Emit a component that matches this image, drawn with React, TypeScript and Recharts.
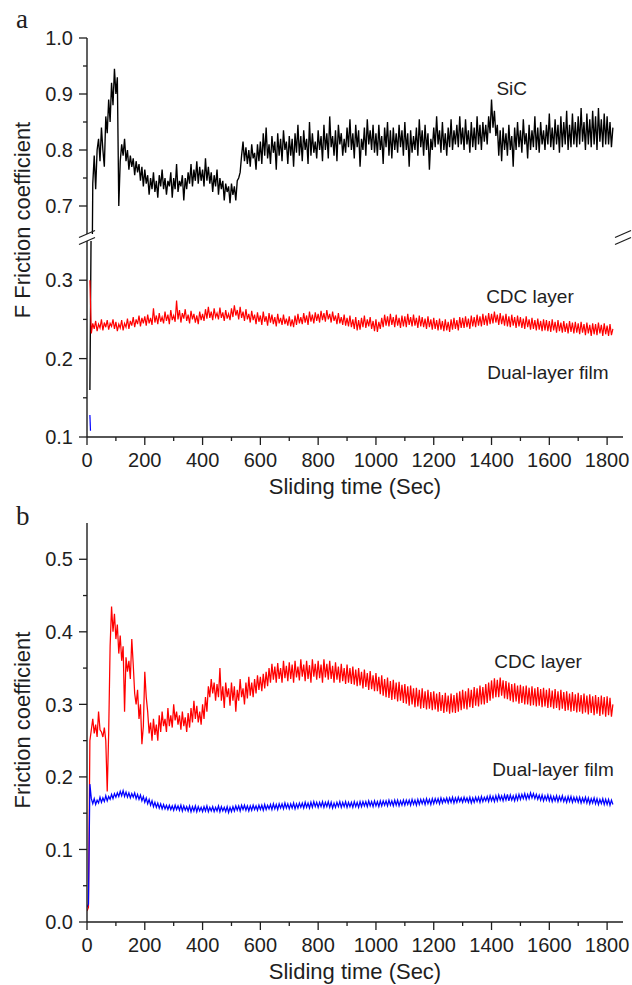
import React from 'react';
import { LineChart, Line, XAxis, YAxis, ReferenceDot } from 'recharts';

// ---------- data ----------
const TIME_START = 0;
const TIME_STEP = 5; // seconds between samples

// Panel a – SiC (black)
const SIC_A: (number | null)[] = [
  null, null, 0.16, 0.4, 0.74, 0.79, 0.73, 0.8, 0.82, 0.78, 0.84, 0.8, 0.77, 0.86, 0.83, 0.89, 0.85, 0.92, 0.88, 0.945,
  0.9, 0.93, 0.7, 0.78, 0.81, 0.79, 0.82, 0.78, 0.8, 0.765, 0.79, 0.77, 0.785, 0.755, 0.78, 0.76, 0.775, 0.745, 0.77, 0.735,
  0.765, 0.74, 0.755, 0.72, 0.75, 0.73, 0.76, 0.725, 0.745, 0.715, 0.755, 0.735, 0.765, 0.73, 0.75, 0.72, 0.745, 0.735, 0.76, 0.715,
  0.75, 0.73, 0.775, 0.725, 0.745, 0.735, 0.755, 0.71, 0.75, 0.73, 0.76, 0.74, 0.775, 0.735, 0.765, 0.745, 0.78, 0.74, 0.77, 0.745,
  0.765, 0.735, 0.785, 0.745, 0.77, 0.74, 0.76, 0.725, 0.755, 0.735, 0.765, 0.72, 0.75, 0.73, 0.745, 0.71, 0.74, 0.725, 0.735, 0.705,
  0.74, 0.72, 0.735, 0.71, 0.745, 0.75, 0.76, 0.79, 0.815, 0.78, 0.805, 0.775, 0.8, 0.77, 0.81, 0.785, 0.795, 0.765, 0.81, 0.78,
  0.815, 0.775, 0.83, 0.79, 0.84, 0.785, 0.81, 0.775, 0.825, 0.795, 0.815, 0.765, 0.83, 0.79, 0.82, 0.78, 0.835, 0.8, 0.815, 0.775,
  0.825, 0.79, 0.82, 0.77, 0.83, 0.795, 0.845, 0.79, 0.825, 0.78, 0.835, 0.8, 0.82, 0.775, 0.85, 0.79, 0.83, 0.795, 0.815, 0.785,
  0.835, 0.8, 0.825, 0.78, 0.845, 0.8, 0.83, 0.785, 0.86, 0.805, 0.825, 0.79, 0.835, 0.78, 0.845, 0.81, 0.83, 0.79, 0.82, 0.795,
  0.84, 0.805, 0.855, 0.8, 0.83, 0.785, 0.845, 0.805, 0.835, 0.77, 0.82, 0.8, 0.84, 0.79, 0.855, 0.81, 0.835, 0.8, 0.845, 0.795,
  0.83, 0.79, 0.845, 0.8, 0.825, 0.775, 0.84, 0.805, 0.85, 0.79, 0.835, 0.785, 0.84, 0.8, 0.83, 0.795, 0.845, 0.805, 0.835, 0.79,
  0.85, 0.8, 0.83, 0.77, 0.835, 0.795, 0.825, 0.8, 0.84, 0.79, 0.855, 0.805, 0.835, 0.79, 0.845, 0.8, 0.83, 0.765, 0.82, 0.8,
  0.84, 0.805, 0.86, 0.81, 0.835, 0.795, 0.85, 0.8, 0.83, 0.79, 0.84, 0.805, 0.855, 0.8, 0.835, 0.81, 0.845, 0.805, 0.86, 0.81,
  0.84, 0.8, 0.855, 0.81, 0.835, 0.795, 0.85, 0.805, 0.84, 0.8, 0.86, 0.81, 0.845, 0.8, 0.85, 0.815, 0.845, 0.81, 0.86, 0.83,
  0.89, 0.84, 0.87, 0.825, 0.845, 0.79, 0.835, 0.78, 0.84, 0.8, 0.83, 0.79, 0.845, 0.8, 0.825, 0.77, 0.84, 0.8, 0.85, 0.805,
  0.835, 0.795, 0.855, 0.81, 0.83, 0.785, 0.845, 0.8, 0.835, 0.805, 0.86, 0.8, 0.84, 0.795, 0.85, 0.81, 0.835, 0.8, 0.845, 0.81,
  0.865, 0.805, 0.84, 0.8, 0.855, 0.81, 0.845, 0.795, 0.86, 0.805, 0.85, 0.81, 0.87, 0.8, 0.845, 0.805, 0.865, 0.81, 0.85, 0.805,
  0.86, 0.81, 0.875, 0.815, 0.85, 0.8, 0.865, 0.81, 0.855, 0.805, 0.87, 0.81, 0.86, 0.8, 0.875, 0.815, 0.855, 0.805, 0.865, 0.81,
  0.86, 0.81, 0.85, 0.805, 0.84,
];

// Panel a – CDC layer (red)
const CDC_A: (number | null)[] = [
  null, null, 0.3, 0.232, 0.245, 0.238, 0.248, 0.235, 0.244, 0.239, 0.25, 0.236, 0.246, 0.24, 0.249, 0.237, 0.245, 0.241, 0.25, 0.238,
  0.247, 0.235, 0.244, 0.239, 0.249, 0.236, 0.245, 0.24, 0.251, 0.238, 0.248, 0.242, 0.253, 0.24, 0.25, 0.244, 0.255, 0.241, 0.252, 0.245,
  0.254, 0.242, 0.256, 0.245, 0.252, 0.243, 0.264, 0.246, 0.255, 0.244, 0.258, 0.247, 0.253, 0.245, 0.26, 0.248, 0.256, 0.244, 0.262, 0.249,
  0.255, 0.247, 0.274, 0.25, 0.262, 0.246, 0.258, 0.251, 0.263, 0.248, 0.256, 0.245, 0.261, 0.25, 0.257, 0.246, 0.255, 0.244, 0.26, 0.249,
  0.257, 0.248, 0.263, 0.251, 0.266, 0.252, 0.26, 0.249, 0.264, 0.253, 0.258, 0.25, 0.265, 0.252, 0.259, 0.248, 0.262, 0.251, 0.257, 0.249,
  0.264, 0.253, 0.268, 0.255, 0.262, 0.25, 0.266, 0.252, 0.26, 0.248, 0.263, 0.25, 0.257, 0.246, 0.261, 0.249, 0.256, 0.244, 0.259, 0.247,
  0.255, 0.243, 0.26, 0.247, 0.254, 0.242, 0.258, 0.246, 0.256, 0.244, 0.253, 0.241, 0.257, 0.245, 0.252, 0.243, 0.256, 0.244, 0.251, 0.242,
  0.254, 0.241, 0.25, 0.24, 0.255, 0.243, 0.257, 0.245, 0.253, 0.244, 0.258, 0.246, 0.255, 0.243, 0.26, 0.247, 0.256, 0.245, 0.259, 0.248,
  0.257, 0.246, 0.261, 0.249, 0.258, 0.247, 0.262, 0.25, 0.257, 0.246, 0.26, 0.248, 0.255, 0.244, 0.258, 0.245, 0.253, 0.243, 0.256, 0.242,
  0.252, 0.241, 0.255, 0.24, 0.25, 0.238, 0.253, 0.236, 0.249, 0.237, 0.252, 0.24, 0.255, 0.239, 0.25, 0.241, 0.253, 0.238, 0.248, 0.235,
  0.25, 0.234, 0.247, 0.238, 0.252, 0.24, 0.256, 0.242, 0.254, 0.241, 0.257, 0.243, 0.253, 0.24, 0.256, 0.242, 0.252, 0.239, 0.255, 0.241,
  0.254, 0.24, 0.257, 0.243, 0.253, 0.241, 0.256, 0.242, 0.252, 0.239, 0.255, 0.241, 0.253, 0.24, 0.251, 0.238, 0.254, 0.24, 0.25, 0.237,
  0.252, 0.238, 0.249, 0.236, 0.251, 0.237, 0.248, 0.235, 0.25, 0.236, 0.247, 0.234, 0.25, 0.237, 0.252, 0.238, 0.249, 0.236, 0.253, 0.239,
  0.252, 0.239, 0.254, 0.24, 0.251, 0.238, 0.255, 0.241, 0.253, 0.24, 0.256, 0.242, 0.254, 0.241, 0.257, 0.243, 0.255, 0.242, 0.258, 0.244,
  0.257, 0.245, 0.26, 0.246, 0.256, 0.243, 0.258, 0.244, 0.255, 0.242, 0.257, 0.241, 0.254, 0.24, 0.256, 0.242, 0.253, 0.239, 0.255, 0.241,
  0.253, 0.239, 0.251, 0.238, 0.254, 0.24, 0.25, 0.237, 0.252, 0.238, 0.249, 0.236, 0.251, 0.237, 0.248, 0.235, 0.25, 0.236, 0.249, 0.235,
  0.248, 0.234, 0.25, 0.236, 0.247, 0.233, 0.249, 0.235, 0.246, 0.233, 0.248, 0.234, 0.245, 0.232, 0.248, 0.234, 0.246, 0.232, 0.247, 0.233,
  0.245, 0.231, 0.247, 0.233, 0.244, 0.23, 0.246, 0.232, 0.243, 0.229, 0.245, 0.231, 0.244, 0.23, 0.246, 0.232, 0.243, 0.229, 0.245, 0.231,
  0.242, 0.229, 0.244, 0.23, 0.238,
];

// Panel a – Dual-layer film (blue): only a short blip is visible above 0.1
const DUAL_A_TIME = [10, 12];
const DUAL_A = [0.128, 0.108];

// Panel b – CDC layer (red)
const CDC_B: number[] = [
  0.015, 0.02, 0.25, 0.265, 0.28, 0.26, 0.272, 0.255, 0.29, 0.265, 0.262, 0.255, 0.268, 0.25, 0.18, 0.26, 0.38, 0.435, 0.4, 0.425,
  0.39, 0.41, 0.37, 0.395, 0.36, 0.38, 0.29, 0.365, 0.345, 0.36, 0.335, 0.39, 0.355, 0.315, 0.3, 0.32, 0.28, 0.3, 0.245, 0.27,
  0.345, 0.31, 0.29, 0.26, 0.275, 0.25, 0.28, 0.258, 0.272, 0.25, 0.285, 0.262, 0.29, 0.27, 0.28, 0.262, 0.295, 0.27, 0.285, 0.268,
  0.3, 0.278, 0.29, 0.272, 0.285, 0.265, 0.29, 0.27, 0.282, 0.262, 0.288, 0.268, 0.295, 0.275, 0.305, 0.28, 0.298, 0.275, 0.29, 0.272,
  0.3, 0.28, 0.31, 0.29, 0.325, 0.31, 0.335, 0.315, 0.33, 0.305, 0.328, 0.31, 0.35, 0.305, 0.325, 0.295, 0.33, 0.31, 0.322, 0.298,
  0.33, 0.305, 0.325, 0.29, 0.32, 0.305, 0.335, 0.31, 0.322, 0.3, 0.33, 0.308, 0.338, 0.312, 0.33, 0.31, 0.335, 0.315, 0.34, 0.32,
  0.338, 0.318, 0.342, 0.322, 0.345, 0.325, 0.35, 0.33, 0.356, 0.334, 0.352, 0.33, 0.357, 0.335, 0.35, 0.33, 0.36, 0.336, 0.353, 0.332,
  0.358, 0.335, 0.355, 0.33, 0.36, 0.337, 0.352, 0.333, 0.362, 0.338, 0.355, 0.332, 0.36, 0.335, 0.354, 0.33, 0.362, 0.338, 0.356, 0.334,
  0.36, 0.336, 0.355, 0.33, 0.362, 0.337, 0.356, 0.334, 0.36, 0.335, 0.353, 0.33, 0.358, 0.334, 0.352, 0.33, 0.356, 0.332, 0.35, 0.328,
  0.355, 0.33, 0.35, 0.328, 0.352, 0.327, 0.348, 0.325, 0.35, 0.326, 0.345, 0.322, 0.348, 0.324, 0.343, 0.32, 0.346, 0.321, 0.34, 0.318,
  0.343, 0.318, 0.338, 0.314, 0.34, 0.312, 0.335, 0.31, 0.337, 0.309, 0.332, 0.306, 0.334, 0.307, 0.33, 0.304, 0.331, 0.305, 0.327, 0.302,
  0.328, 0.301, 0.325, 0.298, 0.326, 0.3, 0.322, 0.296, 0.323, 0.297, 0.32, 0.294, 0.322, 0.295, 0.318, 0.293, 0.32, 0.294, 0.317, 0.292,
  0.318, 0.293, 0.315, 0.29, 0.317, 0.291, 0.313, 0.288, 0.316, 0.29, 0.312, 0.287, 0.315, 0.289, 0.313, 0.288, 0.316, 0.29, 0.318, 0.292,
  0.32, 0.294, 0.318, 0.293, 0.322, 0.296, 0.32, 0.295, 0.324, 0.298, 0.322, 0.297, 0.326, 0.3, 0.324, 0.3, 0.328, 0.302, 0.33, 0.305,
  0.333, 0.308, 0.336, 0.31, 0.334, 0.31, 0.337, 0.312, 0.333, 0.308, 0.332, 0.307, 0.33, 0.305, 0.328, 0.303, 0.329, 0.304, 0.326, 0.301,
  0.327, 0.302, 0.325, 0.3, 0.326, 0.3, 0.323, 0.298, 0.325, 0.299, 0.322, 0.297, 0.324, 0.298, 0.321, 0.296, 0.323, 0.297, 0.32, 0.295,
  0.322, 0.296, 0.319, 0.294, 0.321, 0.295, 0.318, 0.292, 0.32, 0.294, 0.317, 0.291, 0.318, 0.292, 0.315, 0.29, 0.317, 0.291, 0.314, 0.289,
  0.316, 0.29, 0.313, 0.287, 0.315, 0.289, 0.312, 0.286, 0.314, 0.288, 0.311, 0.285, 0.313, 0.287, 0.31, 0.284, 0.312, 0.286, 0.31, 0.283,
  0.311, 0.285, 0.309, 0.283, 0.3,
];

// Panel b – Dual-layer film (blue)
const DUAL_B: number[] = [
  0.02, 0.025, 0.19, 0.17, 0.163, 0.17, 0.162, 0.168, 0.164, 0.172, 0.165, 0.171, 0.166, 0.174, 0.167, 0.173, 0.169, 0.176, 0.17, 0.177,
  0.172, 0.178, 0.173, 0.18, 0.174, 0.181, 0.173, 0.179, 0.172, 0.178, 0.171, 0.177, 0.172, 0.178, 0.17, 0.176, 0.169, 0.175, 0.167, 0.173,
  0.165, 0.171, 0.163, 0.169, 0.161, 0.167, 0.159, 0.165, 0.158, 0.164, 0.157, 0.163, 0.156, 0.162, 0.156, 0.161, 0.155, 0.161, 0.155, 0.16,
  0.154, 0.161, 0.155, 0.16, 0.154, 0.161, 0.153, 0.16, 0.154, 0.159, 0.153, 0.16, 0.152, 0.159, 0.153, 0.16, 0.152, 0.159, 0.153, 0.158,
  0.152, 0.159, 0.153, 0.16, 0.152, 0.158, 0.153, 0.159, 0.152, 0.158, 0.153, 0.16, 0.152, 0.159, 0.153, 0.158, 0.152, 0.159, 0.151, 0.158,
  0.152, 0.159, 0.153, 0.16, 0.154, 0.16, 0.153, 0.161, 0.155, 0.161, 0.154, 0.16, 0.153, 0.16, 0.154, 0.161, 0.155, 0.16, 0.154, 0.161,
  0.155, 0.161, 0.154, 0.162, 0.155, 0.161, 0.156, 0.162, 0.155, 0.163, 0.156, 0.162, 0.155, 0.163, 0.157, 0.163, 0.156, 0.164, 0.157, 0.163,
  0.156, 0.163, 0.157, 0.164, 0.156, 0.163, 0.157, 0.164, 0.158, 0.164, 0.157, 0.165, 0.158, 0.164, 0.157, 0.165, 0.158, 0.166, 0.159, 0.165,
  0.158, 0.165, 0.159, 0.166, 0.158, 0.165, 0.159, 0.166, 0.158, 0.165, 0.157, 0.164, 0.158, 0.165, 0.159, 0.166, 0.158, 0.165, 0.159, 0.166,
  0.158, 0.165, 0.159, 0.165, 0.158, 0.166, 0.159, 0.165, 0.158, 0.166, 0.159, 0.166, 0.16, 0.166, 0.159, 0.167, 0.16, 0.166, 0.159, 0.167,
  0.16, 0.166, 0.159, 0.167, 0.16, 0.167, 0.161, 0.167, 0.16, 0.168, 0.161, 0.167, 0.16, 0.168, 0.161, 0.168, 0.16, 0.167, 0.161, 0.168,
  0.161, 0.168, 0.162, 0.168, 0.161, 0.169, 0.162, 0.168, 0.161, 0.169, 0.162, 0.169, 0.163, 0.169, 0.162, 0.17, 0.163, 0.169, 0.162, 0.17,
  0.163, 0.17, 0.164, 0.17, 0.163, 0.171, 0.164, 0.17, 0.165, 0.171, 0.164, 0.171, 0.165, 0.172, 0.164, 0.171, 0.165, 0.172, 0.166, 0.171,
  0.165, 0.172, 0.166, 0.171, 0.165, 0.172, 0.164, 0.171, 0.165, 0.172, 0.166, 0.172, 0.165, 0.173, 0.166, 0.172, 0.167, 0.173, 0.166, 0.174,
  0.167, 0.173, 0.166, 0.174, 0.167, 0.175, 0.168, 0.174, 0.167, 0.175, 0.168, 0.176, 0.167, 0.175, 0.168, 0.174, 0.167, 0.175, 0.168, 0.176,
  0.169, 0.176, 0.17, 0.177, 0.169, 0.176, 0.17, 0.178, 0.171, 0.177, 0.17, 0.176, 0.169, 0.175, 0.168, 0.175, 0.167, 0.174, 0.168, 0.175,
  0.167, 0.174, 0.166, 0.173, 0.167, 0.174, 0.166, 0.173, 0.167, 0.174, 0.166, 0.172, 0.165, 0.173, 0.166, 0.173, 0.165, 0.172, 0.166, 0.172,
  0.165, 0.172, 0.164, 0.171, 0.165, 0.172, 0.164, 0.171, 0.163, 0.17, 0.164, 0.171, 0.163, 0.17, 0.162, 0.169, 0.163, 0.17, 0.162, 0.169,
  0.162, 0.169, 0.161, 0.168, 0.162,
];

// Axes
const X_MAX = 1855;
const X_TICKS = [0, 100, 200, 300, 400, 500, 600, 700, 800, 900, 1000, 1100, 1200, 1300, 1400, 1500, 1600, 1700, 1800];
const Y_DOMAIN_A_TOP: [number, number] = [0.65, 1.0];
const Y_TICKS_A_TOP = [0.7, 0.75, 0.8, 0.85, 0.9, 0.95, 1.0];
const Y_DOMAIN_A_BOTTOM: [number, number] = [0.1, 0.35];
const Y_TICKS_A_BOTTOM = [0.1, 0.15, 0.2, 0.25, 0.3];
const Y_DOMAIN_B: [number, number] = [0, 0.55];
const Y_TICKS_B = [0, 0.05, 0.1, 0.15, 0.2, 0.25, 0.3, 0.35, 0.4, 0.45, 0.5];

// ---------- helpers ----------
const toSeries = (vals: (number | null)[]) =>
  vals.map((v, i) => ({ t: TIME_START + i * TIME_STEP, v }));
const pairSeries = (ts: number[], vals: number[]) => ts.map((t, i) => ({ t, v: vals[i] }));

const sicA = toSeries(SIC_A);
const cdcA = toSeries(CDC_A);
const dualA = pairSeries(DUAL_A_TIME, DUAL_A);
const cdcB = toSeries(CDC_B);
const dualB = toSeries(DUAL_B);

const SANS = '"Liberation Sans", Arial, Helvetica, sans-serif';
const INK = '#1e1e1e';
const AXIS = { stroke: INK, strokeWidth: 1.4 };
const TICK_FONT = 20;
const TITLE_FONT = 22;
const NOTE_FONT = 19;

const isMajorY = (v: number) => Math.abs(v * 10 - Math.round(v * 10)) < 1e-6;

const YTick = (props: any) => {
  const { x, y, payload } = props;
  const v = payload.value as number;
  const major = isMajorY(v);
  return (
    <g>
      <line x1={x - (major ? 8 : 4)} x2={x} y1={y} y2={y} stroke={INK} strokeWidth={1.3} />
      {major && (
        <text x={x - 14} y={y} dy="0.36em" textAnchor="end" fontSize={TICK_FONT} fontFamily={SANS} fill={INK}>
          {v.toFixed(1)}
        </text>
      )}
    </g>
  );
};

const XTick = (props: any) => {
  const { x, y, payload } = props;
  const v = payload.value as number;
  const major = v % 200 === 0;
  return (
    <g>
      <line x1={x} x2={x} y1={y} y2={y + (major ? 8 : 4)} stroke={INK} strokeWidth={1.3} />
      {major && (
        <text x={x} y={y + 30} textAnchor="middle" fontSize={TICK_FONT} fontFamily={SANS} fill={INK}>
          {v}
        </text>
      )}
    </g>
  );
};

const xTitle = (props: any) => {
  const vb = props.viewBox || {};
  const cx = (vb.x ?? 87) + (vb.width ?? 536) / 2;
  const y = (vb.y ?? 0) + 57;
  return (
    <text x={cx} y={y} textAnchor="middle" fontSize={TITLE_FONT} fontFamily={SANS} fill={INK}>
      Sliding time (Sec)
    </text>
  );
};

const yTitle = (text: string, cx: number, cy: number) => () => (
  <text
    x={cx}
    y={cy}
    transform={`rotate(-90 ${cx} ${cy})`}
    textAnchor="middle"
    dy="0.36em"
    fontSize={TITLE_FONT}
    fontFamily={SANS}
    fill={INK}
  >
    {text}
  </text>
);

const note = (value: string) => ({
  value,
  position: 'center' as const,
  fontSize: NOTE_FONT,
  fontFamily: SANS,
  fill: INK,
});

const W = 632;

export default function App() {
  return (
    <div style={{ position: 'absolute', left: 0, top: 0, width: W, height: 985, background: '#fff', fontFamily: SANS }}>
      {/* Panel a – upper segment */}
      <div style={{ position: 'absolute', left: 0, top: 0 }}>
        <LineChart width={W} height={234} margin={{ top: 38, right: 9, bottom: 0, left: 0 }}>
          <XAxis dataKey="t" type="number" domain={[0, X_MAX]} hide allowDataOverflow />
          <XAxis xAxisId="top" orientation="top" type="number" domain={[0, X_MAX]} height={0} tick={false} tickLine={false} axisLine={AXIS} />
          <YAxis
            type="number"
            domain={Y_DOMAIN_A_TOP}
            ticks={Y_TICKS_A_TOP}
            interval={0}
            width={87}
            tickSize={0}
            tickMargin={0}
            tickLine={false}
            tick={YTick}
            axisLine={AXIS}
            allowDataOverflow
          />
          <YAxis yAxisId="right" orientation="right" type="number" domain={Y_DOMAIN_A_TOP} width={0} tick={false} tickLine={false} axisLine={AXIS} />
          <Line data={sicA} dataKey="v" type="linear" stroke="#000" strokeWidth={1.35} dot={false} isAnimationActive={false} />
          <ReferenceDot x={1470} y={0.91} r={0} fill="none" stroke="none" label={note('SiC')} />
        </LineChart>
      </div>

      {/* Panel a – lower segment */}
      <div style={{ position: 'absolute', left: 0, top: 100 }}>
        <LineChart width={W} height={400} margin={{ top: 141, right: 9, bottom: 3, left: 0 }}>
          <XAxis
            dataKey="t"
            type="number"
            domain={[0, X_MAX]}
            ticks={X_TICKS}
            interval={0}
            height={60}
            tickSize={0}
            tickMargin={0}
            tickLine={false}
            tick={XTick}
            axisLine={AXIS}
            allowDataOverflow
            label={xTitle}
          />
          <YAxis
            type="number"
            domain={Y_DOMAIN_A_BOTTOM}
            ticks={Y_TICKS_A_BOTTOM}
            interval={0}
            width={87}
            tickSize={0}
            tickMargin={0}
            tickLine={false}
            tick={YTick}
            axisLine={AXIS}
            allowDataOverflow
            label={yTitle('F Friction coefficient', 22, 120)}
          />
          <YAxis yAxisId="right" orientation="right" type="number" domain={Y_DOMAIN_A_BOTTOM} width={0} tick={false} tickLine={false} axisLine={AXIS} />
          <Line data={sicA} dataKey="v" type="linear" stroke="#000" strokeWidth={1.35} dot={false} isAnimationActive={false} />
          <Line data={cdcA} dataKey="v" type="linear" stroke="#ff0000" strokeWidth={1.2} dot={false} isAnimationActive={false} />
          <Line data={dualA} dataKey="v" type="linear" stroke="#0000ff" strokeWidth={1.2} dot={false} isAnimationActive={false} />
          <ReferenceDot x={1533} y={0.28} r={0} fill="none" stroke="none" label={note('CDC layer')} />
          <ReferenceDot x={1595} y={0.183} r={0} fill="none" stroke="none" label={note('Dual-layer film')} />
        </LineChart>
      </div>

      {/* Panel b */}
      <div style={{ position: 'absolute', left: 0, top: 500 }}>
        <LineChart width={W} height={485} margin={{ top: 23, right: 9, bottom: 3, left: 0 }}>
          <XAxis
            dataKey="t"
            type="number"
            domain={[0, X_MAX]}
            ticks={X_TICKS}
            interval={0}
            height={60}
            tickSize={0}
            tickMargin={0}
            tickLine={false}
            tick={XTick}
            axisLine={AXIS}
            allowDataOverflow
            label={xTitle}
          />
          <XAxis xAxisId="top" orientation="top" type="number" domain={[0, X_MAX]} height={0} tick={false} tickLine={false} axisLine={AXIS} />
          <YAxis
            type="number"
            domain={Y_DOMAIN_B}
            ticks={Y_TICKS_B}
            interval={0}
            width={87}
            tickSize={0}
            tickMargin={0}
            tickLine={false}
            tick={YTick}
            axisLine={AXIS}
            allowDataOverflow
            label={yTitle('Friction coefficient', 22, 220)}
          />
          <YAxis yAxisId="right" orientation="right" type="number" domain={Y_DOMAIN_B} width={0} tick={false} tickLine={false} axisLine={AXIS} />
          <Line data={cdcB} dataKey="v" type="linear" stroke="#ff0000" strokeWidth={1.25} dot={false} isAnimationActive={false} />
          <Line data={dualB} dataKey="v" type="linear" stroke="#0000ff" strokeWidth={1.25} dot={false} isAnimationActive={false} />
          <ReferenceDot x={1561} y={0.36} r={0} fill="none" stroke="none" label={note('CDC layer')} />
          <ReferenceDot x={1613} y={0.21} r={0} fill="none" stroke="none" label={note('Dual-layer film')} />
        </LineChart>
      </div>

      {/* panel letters and axis-break marks */}
      <svg width={W} height={985} style={{ position: 'absolute', left: 0, top: 0, pointerEvents: 'none' }}>
        <text x={16} y={28} fontSize={27} fontFamily='"Liberation Serif", "Times New Roman", serif' fill={INK}>a</text>
        <text x={16} y={525} fontSize={27} fontFamily='"Liberation Serif", "Times New Roman", serif' fill={INK}>b</text>
        {[87, 623].map((bx) => (
          <g key={bx}>
            <rect x={bx - 3} y={234} width={6} height={7} fill="#fff" />
            <line x1={bx - 8} y1={237.5} x2={bx + 8} y2={230.5} stroke={INK} strokeWidth={1.3} />
            <line x1={bx - 8} y1={244.5} x2={bx + 8} y2={237.5} stroke={INK} strokeWidth={1.3} />
          </g>
        ))}
      </svg>
    </div>
  );
}
